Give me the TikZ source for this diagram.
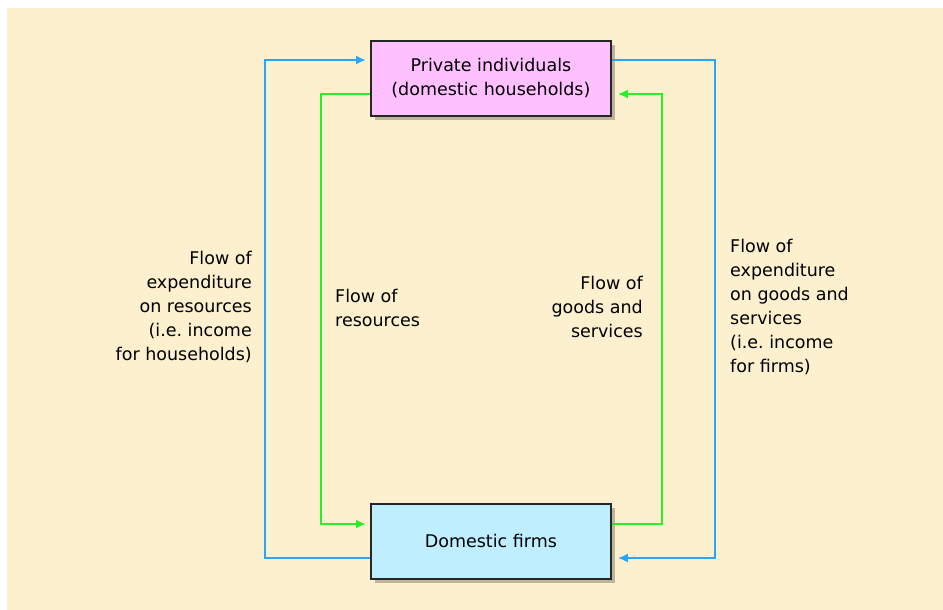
\documentclass[tikz,border=0pt]{standalone}
\usepackage{fontspec}
\setmainfont{DejaVu Sans}
\frenchspacing
\usetikzlibrary{arrows.meta,shadows}
\definecolor{paper}{RGB}{253,240,206}
\definecolor{moneyblue}{RGB}{40,165,250}
\definecolor{goodsgreen}{RGB}{40,240,40}
\definecolor{hhpink}{RGB}{255,192,255}
\definecolor{firmcyan}{RGB}{190,238,255}
\definecolor{shadowtone}{RGB}{175,165,140}
\begin{document}
\begin{tikzpicture}[x=1pt,y=-1pt,
  sector/.style={draw=black!85,line width=1.8pt,minimum width=240pt,minimum height=75pt,
    inner sep=0pt,align=center,font=\fontsize{17.5}{24}\selectfont,
    drop shadow={shadow xshift=4pt,shadow yshift=-4pt,fill=shadowtone,opacity=0.8}},
  money/.style={draw=moneyblue,line width=2.2pt},
  goods/.style={draw=goodsgreen,line width=2.2pt},
  tip/.style={-{Latex[length=10pt,width=9pt]},shorten >=4pt},
  lbl/.style={font=\fontsize{17.5}{24}\selectfont,inner sep=0pt}]
  \useasboundingbox (0,0) rectangle (943,610);
  \fill[paper] (7,8) rectangle (943,610);

  % the two sectors of the economy
  \node[sector,fill=hhpink,anchor=north west] (hh) at (370,40)
    {Private individuals\\(domestic households)};
  \node[sector,fill=firmcyan,anchor=north west] (firms) at (370,503)
    {Domestic firms};

  % corner points of the four loops
  \coordinate (bl1) at (265,558);
  \coordinate (bl2) at (265,60);
  \coordinate (gl1) at (321,94);
  \coordinate (gl2) at (321,524);
  \coordinate (gr1) at (662,524);
  \coordinate (gr2) at (662,94);
  \coordinate (br1) at (715,60);
  \coordinate (br2) at (715,558);

  % outer loop: money
  \draw[money,tip] (firms.west |- bl1) -- (bl1) -- (bl2) -- (hh.west |- bl2);
  \draw[money,tip,shorten >=6pt] (hh.east |- br1) -- (br1) -- (br2) -- (firms.east |- br2);
  % inner loop: real flows
  \draw[goods,tip] (hh.west |- gl1) -- (gl1) -- (gl2) -- (firms.west |- gl2);
  \draw[goods,tip,shorten >=6pt] (firms.east |- gr1) -- (gr1) -- (gr2) -- (hh.east |- gr2);

  % flow labels
  \node[lbl,align=right,anchor=east] (lexp) at (252,307)
    {Flow of\\expenditure\\on resources\\(i.e. income\\for households)};
  \node[lbl,align=left,anchor=west] (lres) at (335,308)
    {Flow of\\resources};
  \node[lbl,align=right,anchor=east] (lgds) at (643,307)
    {Flow of\\goods and\\services};
  \node[lbl,align=left,anchor=west] (rexp) at (730,307)
    {Flow of\\expenditure\\on goods and\\services\\(i.e. income\\for firms)};
\end{tikzpicture}
\end{document}
